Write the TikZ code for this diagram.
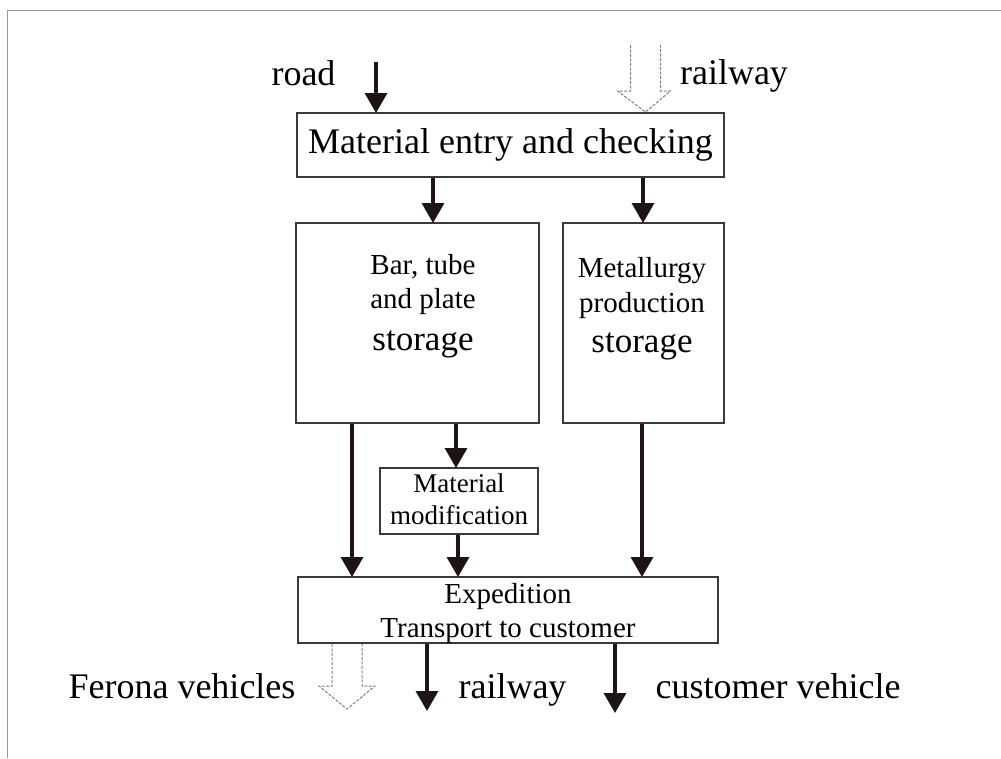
\documentclass[tikz,border=0pt]{standalone}
\usepackage{fontspec}
\setmainfont{Liberation Serif}
\usetikzlibrary{arrows.meta}
\definecolor{ink}{HTML}{1E1414}
\definecolor{boxline}{HTML}{3A3A3A}
\newcommand{\fbig}{\fontsize{36}{40}\selectfont}
\newcommand{\fmid}{\fontsize{29}{33}\selectfont}
\newcommand{\fstore}{\fontsize{35}{40}\selectfont}
\tikzset{
  blk/.style={draw=boxline, line width=2pt, fill=white, inner sep=0pt, rectangle},
  arr/.style={draw=ink, line width=3.5pt, -{Triangle[width=22pt,length=20pt]}, shorten >=-1pt},
  hollow/.style={draw=gray, line width=1pt, dash pattern=on 3pt off 1.5pt},
  lbl/.style={text=black, inner sep=0pt, anchor=base, font=\fbig},
  frame/.style={draw=gray!80, line width=1pt}
}
\begin{document}
\begin{tikzpicture}[x=1pt,y=-1pt]
\useasboundingbox (0,0) rectangle (1001,758);
\fill[white] (0,0) rectangle (1001,758);
% frame
\coordinate (fl) at (7,758);
\coordinate (fc) at (7,10);
\coordinate (fr) at (1001,10);
\draw[frame] (fl) -- (fc) -- (fr);

% boxes
\node[blk, minimum width=427pt, minimum height=64pt] (top) at (510.5,145) {};
\node[font=\fbig, inner sep=0pt] (toptxt) at (top.center) {Material entry and checking};
\node[blk, minimum width=243pt, minimum height=200pt] (bar) at (417.5,323) {};
\node[blk, minimum width=161pt, minimum height=200pt] (met) at (643,323) {};
\node[blk, minimum width=158pt, minimum height=66pt] (mod) at (459,501) {};
\node[blk, minimum width=420pt, minimum height=66pt] (exp) at (508,610) {};

% box texts
\node[lbl, font=\fmid] (bar1) at (423,274) {Bar, tube};
\node[lbl, font=\fmid] (bar2) at (423,308) {and plate};
\node[lbl, font=\fstore] (bar3) at (423,350) {storage};
\node[lbl, font=\fmid] (met1) at (642,277) {Metallurgy};
\node[lbl, font=\fmid] (met2) at (642,312) {production};
\node[lbl, font=\fstore] (met3) at (642,352) {storage};
\node[lbl, font=\fontsize{27}{30}\selectfont] (mod1) at (459,492) {Material};
\node[lbl, font=\fontsize{27}{30}\selectfont] (mod2) at (459,524) {modification};
\node[lbl, font=\fontsize{29}{33}\selectfont] (exp1) at (508,603) {Expedition};
\node[lbl, font=\fontsize{29}{33}\selectfont] (exp2) at (508,637) {Transport to customer};

% outside labels
\node[lbl] (road) at (303.5,85) {road};
\node[lbl] (rail1) at (734,84) {railway};
\node[lbl] (ferona) at (182,698) {Ferona vehicles};
\node[lbl] (rail2) at (512.5,698) {railway};
\node[lbl] (cust) at (778,698) {customer vehicle};

% connectors
\coordinate (roadin) at (376,62);
\draw[arr] (roadin) -- ([xshift=-134.5pt]top.north);
\draw[arr] ([xshift=-77.5pt]top.south) -- ([xshift=15.5pt]bar.north);
\draw[arr] ([xshift=132.5pt]top.south) -- (met.north);
\draw[arr] ([xshift=-65.5pt]bar.south) -- ([xshift=-156pt]exp.north);
\draw[arr] ([xshift=38.5pt]bar.south) -- ([xshift=-3pt]mod.north);
\draw[arr] ([xshift=-1pt]mod.south) -- ([xshift=-50pt]exp.north);
\draw[arr] ([xshift=-1pt]met.south) -- ([xshift=134pt]exp.north);
\coordinate (railout) at (427,710);
\coordinate (custout) at (615,712);
\draw[arr] ([xshift=-81pt]exp.south) -- (railout);
\draw[arr] ([xshift=107pt]exp.south) -- (custout);

% hollow arrows
\coordinate (railtip) at ([xshift=135pt]top.north);
\draw[hollow] (railtip) ++(-15,-67) -- ++(0,46) -- ++(-13,0) -- (railtip) -- ++(25,-21) -- ++(-10,0) -- ++(0,-46);
\coordinate (ftop) at ([xshift=-161pt]exp.south);
\draw[hollow] (ftop) ++(-15,0) -- ++(0,42) -- ++(-13,0) -- ++(28,23) -- ++(28,-23) -- ++(-13,0) -- ++(0,-42);
\end{tikzpicture}
\end{document}
